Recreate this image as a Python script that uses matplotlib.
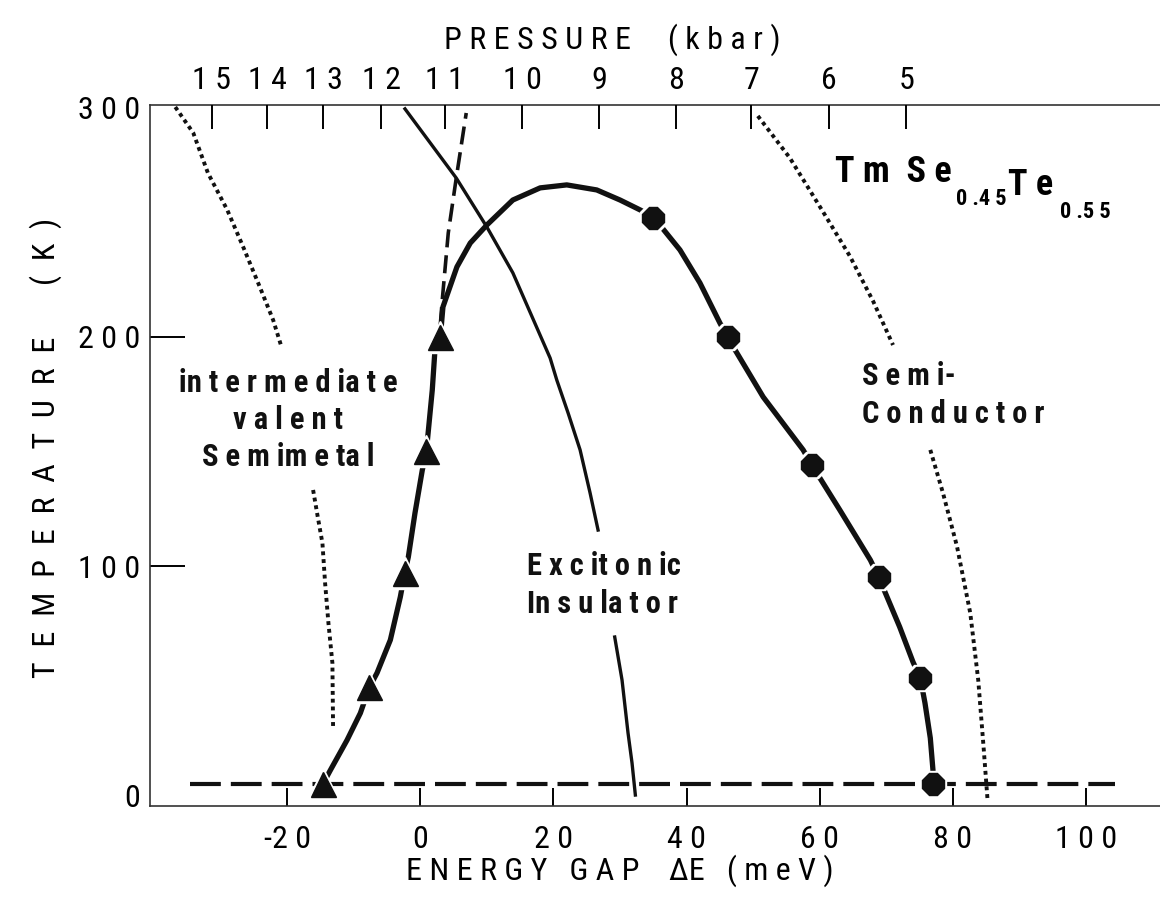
import matplotlib.pyplot as plt

plt.rcParams['font.family'] = ['Roboto Condensed', 'Liberation Sans', 'DejaVu Sans']

# --- data (energy gap in meV, temperature in K)
tri_gap = [-14.6, -7.7, -2.3, 0.9, 3.0]
tri_T = [5, 47, 97, 150, 200]
circ_gap = [35.0, 46.2, 58.8, 68.9, 75.1, 77.0]
circ_T = [252, 200, 144, 95, 51, 5]

# phase boundary through the data points
bound_gap = [-14.6, -13.5, -11.0, -9.0, -7.7, -6.5, -4.5, -3.0, -2.3, -1.8, -0.8, 0.3,
             0.9, 1.8, 2.2, 3.0, 3.4, 5.5, 7.5, 10.0, 13.9, 18.0, 22.0, 26.5, 30.0,
             33.0, 35.0, 39.0, 42.0, 45.0, 46.2, 51.5, 57.5, 58.8, 63.0, 67.6, 68.9,
             72.0, 74.0, 75.1, 75.8, 76.6, 77.0, 77.0]
bound_T = [5, 10.9, 24.0, 35.8, 46.7, 53.3, 67.7, 86.5, 97.4, 103.9, 123.1, 141.9,
           149.8, 176.9, 194.3, 199.6, 213.1, 230.6, 241.0, 248.9, 259.8, 265.1, 266.4,
           264.2, 259.8, 255.5, 252.4, 238.0, 223.6, 206.1, 199.6, 173.8, 150.7, 144.1,
           124.5, 102.6, 94.8, 73.4, 58.1, 51.1, 40.2, 24.9, 10.9, 5]

# steep dashed extension above the triangles
ext_gap = [3.0, 3.3, 4.2, 5.4, 6.9]
ext_T = [205.2, 216.2, 245.4, 269.4, 297.8]

# excitonic insulator line (two pieces, gap for label)
exc1_gap = [-2.3, 5.4, 10.0, 13.9, 19.5, 20.5, 22.2, 24.0, 25.5, 26.7]
exc1_T = [299.6, 269.4, 248.0, 228.0, 190.8, 181.2, 166.8, 150.7, 131.9, 115.7]
exc2_gap = [29.2, 30.3, 31.2, 31.8, 32.3]
exc2_T = [69.0, 50.2, 27.1, 14.0, 0]

# dotted crossover lines
dotL1_gap = [-36.8, -34.1, -31.9, -29.0, -26.6, -24.1, -22.1, -20.8]
dotL1_T = [300.4, 289.1, 271.6, 255.5, 239.3, 221.8, 207.4, 195.2]
dotL2_gap = [-16.1, -15.4, -14.7, -14.3, -13.8, -13.2, -13.1]
dotL2_T = [133.2, 121.4, 110.0, 92.6, 75.1, 57.6, 29.3]
dotR1_gap = [50.7, 55.5, 60.5, 64.5, 68.0, 71.0]
dotR1_T = [296.5, 278.2, 254.6, 235.4, 215.7, 196.5]
dotR2_gap = [76.6, 78.5, 80.6, 82.6, 83.8, 84.6, 85.2]
dotR2_T = [150.7, 131.9, 108.7, 79.5, 50.2, 21.0, -2.2]

low_T = 5
low_gap = [-34.6, 104.3]

gap_ticks = [-20, 0, 20, 40, 60, 80, 100]
gap_labels = ['-2 0', '0', '2 0', '4 0', '6 0', '8 0', '1 0 0']
T_ticks = [0, 100, 200, 300]
T_labels = ['0', '1 0 0', '2 0 0', '3 0 0']
p_pos = [-31.3, -23.0, -14.6, -5.9, 3.7, 15.3, 26.9, 38.4, 49.7, 61.4, 73.0]
p_labels = ['1 5', '1 4', '1 3', '1 2', '1 1', '1 0', '9', '8', '7', '6', '5']

fig = plt.figure(figsize=(11.6, 9.01), dpi=100)
ax = fig.add_axes([0.1293, 0.1054, 0.8707, 0.7781])
ax.set_xlim(-40.6, 111.1)
ax.set_ylim(-4.8, 301.3)

for s in ['left', 'bottom', 'top']:
    ax.spines[s].set_linewidth(1.2)
    ax.spines[s].set_color('#333333')
ax.spines['right'].set_visible(False)

ax.plot(low_gap, [low_T, low_T], color='#111111', lw=3, ls=(0, (7.4, 2.4)))

ax.plot(bound_gap, bound_T, color='#111111', lw=3.8, solid_capstyle='round', solid_joinstyle='round')
ax.plot(ext_gap, ext_T, color='#111111', lw=2.6, ls=(0, (5, 2.2)))
ax.plot(exc1_gap, exc1_T, color='#111111', lw=2.4)
ax.plot(exc2_gap, exc2_T, color='#111111', lw=2.4)

for gx, gy in [(dotL1_gap, dotL1_T), (dotL2_gap, dotL2_T), (dotR1_gap, dotR1_T), (dotR2_gap, dotR2_T)]:
    ax.plot(gx, gy, color='#111111', lw=2.8, ls=(0, (1, 1)))

# markers with a white halo
ax.plot(tri_gap, tri_T, ls='none', marker='^', ms=23, color='white')
ax.plot(tri_gap, tri_T, ls='none', marker='^', ms=18, color='#111111')
ax.plot(circ_gap, circ_T, ls='none', marker='8', ms=21, color='white')
ax.plot(circ_gap, circ_T, ls='none', marker='8', ms=16.5, color='#111111')

ax.set_xticks(gap_ticks, gap_labels)
ax.set_yticks(T_ticks, T_labels)
ax.tick_params(axis='x', direction='in', length=13, width=1.4, labelsize=23, pad=14)
ax.tick_params(axis='y', direction='in', length=25, width=1.4, labelsize=23, pad=7)
for t in [ax.yaxis.get_major_ticks()[0], ax.yaxis.get_major_ticks()[-1]]:
    t.tick1line.set_visible(False)

ax2 = ax.twiny()
ax2.set_xlim(ax.get_xlim())
ax2.set_xticks(p_pos, p_labels)
ax2.tick_params(axis='x', direction='in', length=17, width=1.4, labelsize=23, pad=7)
for s in ['left', 'bottom', 'top', 'right']:
    ax2.spines[s].set_visible(False)

# labels
fig.text(0.528, 0.956, 'P R E S S U R E     ( k b a r )', fontsize=23, ha='center', va='center')
fig.text(0.534, 0.034, 'E N E R G Y   G A P    \u0394E   ( m e V )', fontsize=23, ha='center', va='center')
fig.text(0.039, 0.503, 'T  E  M  P  E  R  A  T  U  R  E       (  K  )', fontsize=23,
         ha='center', va='center', rotation=90)

bold = dict(fontsize=22, fontweight='bold', color='#111111')
ax.text(-19.8, 163.8, 'in t e r m e d ia t e\nv a l e n t\nS e m im e ta l',
        ha='center', va='center', linespacing=1.3, **bold)
ax.text(16.0, 91.7, 'E x c it o n ic\nIn s u la t o r', ha='left', va='center',
        linespacing=1.3, **bold)
ax.text(66.3, 174.7, 'S e m i-\nC o n d u c t o r', ha='left', va='center',
        linespacing=1.3, **bold)

# compound formula
t1 = ax.text(62.3, 267.7, 'T m  S e', fontsize=26, fontweight='bold', ha='left', va='baseline')
t2 = ax.annotate('0 .4 5', xy=(1, 0), xycoords=t1, xytext=(3, -11), textcoords='offset points',
                 fontsize=16, fontweight='bold', va='baseline')
t3 = ax.annotate('T e', xy=(1, 0), xycoords=t2, xytext=(1, 11), textcoords='offset points',
                 fontsize=26, fontweight='bold', va='baseline')
ax.annotate('0 .5 5', xy=(1, 0), xycoords=t3, xytext=(5, -11), textcoords='offset points',
            fontsize=16, fontweight='bold', va='baseline')

fig.savefig('out.png', dpi=100)
